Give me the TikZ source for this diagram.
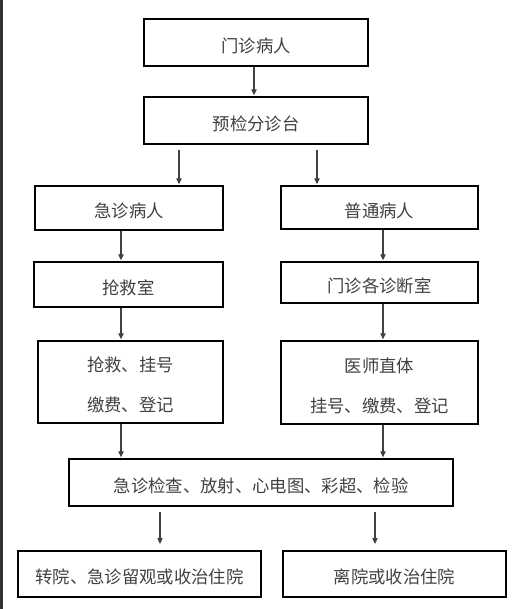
\documentclass[tikz,border=0pt]{standalone}
\usepackage{fontspec}
\newfontfamily\cjk{Noto Sans CJK SC}
\usetikzlibrary{arrows.meta}
\newcommand\dn[1]{\raisebox{-2.5pt}[\height][\depth]{#1}}
\begin{document}
\begin{tikzpicture}[x=0.75pt,y=-0.75pt,
  box/.style={draw=black,line width=1.5pt,inner sep=0pt,align=center,
    font=\cjk\fontsize{13}{30}\selectfont,text=black!75},
  arr/.style={draw=black!75,line width=0.8pt,-{Triangle[length=4.5pt,width=4pt]},shorten >=0.5pt}]
\useasboundingbox (0,0) rectangle (519,609);
\draw[line width=1.5pt,black!80] (1.5,0) -- (1.5,609);
\node[box,minimum width=224*0.75pt,minimum height=47*0.75pt] (b1) at (256,42.5) {\dn{门诊病人}};
\node[box,minimum width=224*0.75pt,minimum height=47*0.75pt] (b2) at (256,120.5) {\dn{预检分诊台}};
\node[box,minimum width=188*0.75pt,minimum height=44*0.75pt] (b3) at (129,208) {\dn{急诊病人}};
\node[box,minimum width=197*0.75pt,minimum height=43*0.75pt] (b4) at (379.5,207.5) {\dn{普通病人}};
\node[box,minimum width=189*0.75pt,minimum height=45*0.75pt] (b5) at (128.5,284.5) {\dn{抢救室}};
\node[box,minimum width=197*0.75pt,minimum height=41*0.75pt] (b6) at (379.5,282.5) {\dn{门诊各诊断室}};
\node[box,minimum width=185*0.75pt,minimum height=82*0.75pt] (b7) at (130.5,382) {\dn{抢救、挂号}\\\dn{缴费、登记}};
\node[box,minimum width=197*0.75pt,minimum height=83*0.75pt] (b8) at (379.5,382.5) {\dn{医师直体}\\\dn{挂号、缴费、登记}};
\node[box,minimum width=384*0.75pt,minimum height=47*0.75pt] (b9) at (261,482.5) {\dn{急诊检查、放射、心电图、彩超、检验}};
\node[box,minimum width=243*0.75pt,minimum height=46*0.75pt] (b10) at (139.5,574) {\dn{转院、急诊留观或收治住院}};
\node[box,minimum width=223*0.75pt,minimum height=46*0.75pt] (b11) at (394.5,574) {\dn{离院或收治住院}};
\coordinate (x0) at (254,0);
\coordinate (xa) at (179,0);
\coordinate (xb) at (317,0);
\coordinate (xl) at (121,0);
\coordinate (xr) at (383,0);
\coordinate (xi) at (160,0);
\coordinate (xj) at (375,0);
\draw[arr] (b1.south -| x0) -- (b2.north -| x0);
\draw[arr,shorten <=4pt] (b2.south -| xa) -- (b3.north -| xa);
\draw[arr,shorten <=4pt] (b2.south -| xb) -- (b4.north -| xb);
\draw[arr] (b3.south -| xl) -- (b5.north -| xl);
\draw[arr] (b4.south -| xr) -- (b6.north -| xr);
\draw[arr] (b5.south -| xl) -- (b7.north -| xl);
\draw[arr] (b6.south -| xr) -- (b8.north -| xr);
\draw[arr] (b7.south -| xl) -- (b9.north -| xl);
\draw[arr] (b8.south -| xr) -- (b9.north -| xr);
\draw[arr,shorten <=4pt,shorten >=4.5pt] (b9.south -| xi) -- (b10.north -| xi);
\draw[arr,shorten <=4pt,shorten >=4.5pt] (b9.south -| xj) -- (b11.north -| xj);
\end{tikzpicture}
\end{document}
